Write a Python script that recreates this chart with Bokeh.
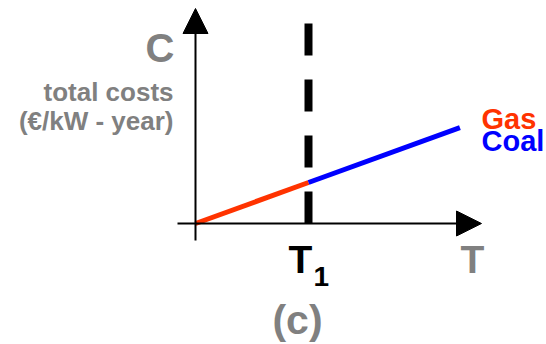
from bokeh.plotting import figure
from bokeh.models import Range1d, Arrow, NormalHead, Label
from bokeh.embed import file_html
from bokeh.resources import INLINE

# data (abstract units: T1 = 1)
gas_t = [0.0, 1.0]
gas_c = [0.0, 1.0]
coal_t = [1.0, 2.34]
coal_c = [1.0, 2.34]
t1 = 1.0
series_names = ["Gas", "Coal"]
series_colors = ["#FF3300", "#0000FF"]

W, H = 546, 344
ox, oy = 195.0, 223.0   # origin in figure pixels
sx, sy = 113.0, 41.0    # pixels per unit

p = figure(width=W, height=H, output_backend="svg", toolbar_location=None,
           x_range=Range1d(-ox / sx, (W - ox) / sx),
           y_range=Range1d(-(H - oy) / sy, oy / sy),
           min_border=0, outline_line_color=None)
p.axis.visible = False
p.grid.visible = False
p.background_fill_color = "white"
p.border_fill_color = "white"

def px(xp):
    return (xp - ox) / sx

def py(yp):
    return (oy - yp) / sy

# axes with arrow heads
p.add_layout(Arrow(end=NormalHead(size=25, fill_color="black", line_color="black"),
                   x_start=px(177), y_start=0, x_end=px(481), y_end=0,
                   line_width=2, line_color="black"))
p.add_layout(Arrow(end=NormalHead(size=25, fill_color="black", line_color="black"),
                   x_start=0, y_start=py(240), x_end=0, y_end=py(8),
                   line_width=2, line_color="black"))

# dashed T1 line
p.line([t1, t1], [0, py(23)], line_width=8, line_color="black", line_dash="32 24")

# cost lines
p.line(gas_t, gas_c, line_width=5, line_color=series_colors[0])
p.line(coal_t, coal_c, line_width=5, line_color=series_colors[1])

gray = "#808080"
font = "Liberation Sans"

def lab(text, xp, yp, size, color, align="left"):
    yy = yp - 0.4 * size
    p.add_layout(Label(x=px(xp), y=py(yy), text=text, text_font=font,
                       text_font_size=f"{size}px", text_font_style="bold",
                       text_color=color, text_align=align,
                       text_baseline="alphabetic"))

lab("C", 174, 63, 40, gray, "right")
lab("total costs", 173, 102, 26, gray, "right")
lab("(€/kW - year)", 173, 131, 26, gray, "right")
lab(series_names[0], 481, 130, 29, series_colors[0])
lab(series_names[1], 481, 152, 29, series_colors[1])
lab("T", 288, 275, 39, "black")
lab("1", 313, 287, 28, "black")
lab("T", 460, 275, 39, gray)
lab("(c)", 297, 336, 41, gray, "center")

open("out.html", "w").write(file_html(p, INLINE))
